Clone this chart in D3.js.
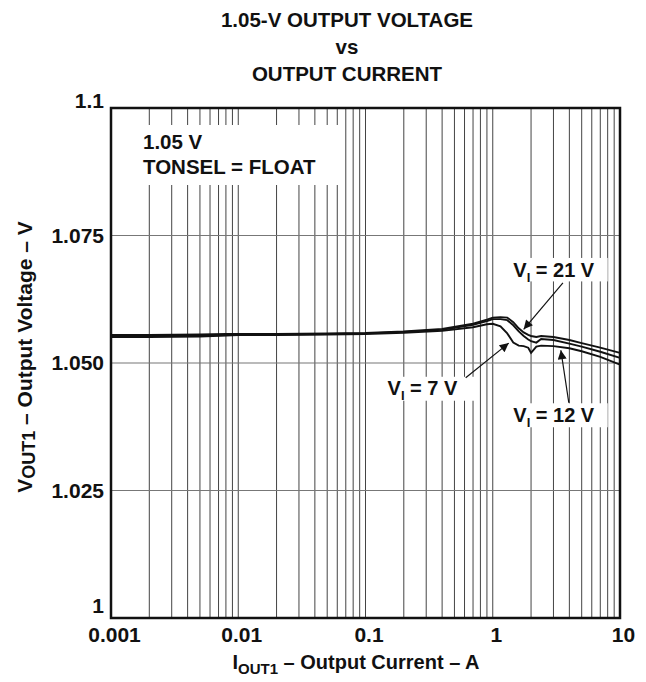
<!DOCTYPE html>
<html>
<head>
<meta charset="utf-8">
<script src="https://cdn.jsdelivr.net/npm/d3@7"></script>
<style>
  body { margin: 0; background: #fff; }
  text { font-family: "Liberation Sans", Arial, sans-serif; font-weight: bold; fill: #111; }
</style>
</head>
<body>
<script>
// chart values
var currents = [0.001, 0.002, 0.005, 0.008, 0.01, 0.02, 0.05, 0.1, 0.2, 0.4, 0.7, 0.9, 1.0, 1.15, 1.3, 1.45, 1.6, 1.75, 1.9, 2.0, 2.2, 2.4, 3, 4, 5, 7, 10];
var v21 = [1.0555, 1.0555, 1.0556, 1.0557, 1.0557, 1.0557, 1.0558, 1.0559, 1.0562, 1.0567, 1.0577, 1.0585, 1.0589, 1.0590, 1.0589, 1.0580, 1.0568, 1.0560, 1.0555, 1.0553, 1.0551, 1.0553, 1.0551, 1.0545, 1.0539, 1.0530, 1.0520];
var v12 = [1.0553, 1.0553, 1.0554, 1.0555, 1.0556, 1.0556, 1.0557, 1.0558, 1.0561, 1.0565, 1.0575, 1.0582, 1.0586, 1.0586, 1.0584, 1.0574, 1.0562, 1.0553, 1.0546, 1.0543, 1.0540, 1.0547, 1.0545, 1.0538, 1.0532, 1.0522, 1.0510];
var v7 = [1.0551, 1.0551, 1.0552, 1.0554, 1.0555, 1.0555, 1.0556, 1.0557, 1.0559, 1.0563, 1.0570, 1.0576, 1.0577, 1.0572, 1.0558, 1.0540, 1.0534, 1.0533, 1.0530, 1.0520, 1.0532, 1.0534, 1.0533, 1.0529, 1.0523, 1.0512, 1.0497];

var xTicks = [0.001, 0.01, 0.1, 1, 10];
var xTickLabels = ["0.001", "0.01", "0.1", "1", "10"];
var yTicks = [1, 1.025, 1.05, 1.075, 1.1];
var yTickLabels = ["1", "1.025", "1.050", "1.075", "1.1"];

var titleLines = ["1.05-V OUTPUT VOLTAGE", "vs", "OUTPUT CURRENT"];

// annotation anchors in data units
var notes = [
  { label: "21 V", tx: 1.45, ty: 1.0669, box: [1.38, 8.0, 1.0706, 1.0660], from: [3.56, 1.0657], to: [1.75, 1.0566] },
  { label: "7 V", tx: 0.149, ty: 1.0437, box: [0.137, 0.75, 1.0473, 1.0426], from: [0.613, 1.0471], to: [1.336, 1.0539] },
  { label: "12 V", tx: 1.45, ty: 1.0384, box: [1.38, 8.0, 1.0421, 1.0374], from: [3.96, 1.0422], to: [3.43, 1.0525] }
];

var w = 646, h = 682;
var padL = 111, padR = 620, padT = 108, padB = 618;

var svg = d3.select("body").append("svg")
    .attr("width", w)
    .attr("height", h);

var x = d3.scaleLog().domain([0.001, 10]).range([padL, padR]);
var y = d3.scaleLinear().domain([1, 1.1]).range([padB, padT]);

// title
svg.selectAll("text.title")
    .data(titleLines)
    .enter()
    .append("text")
    .attr("class", "title")
    .attr("x", 347)
    .attr("y", function(d, i) { return 27 + i * 27; })
    .attr("text-anchor", "middle")
    .style("font-size", "20.5px")
    .text(function(d) { return d; });

// grid: every minor decade line
var gridX = [];
[0.001, 0.01, 0.1, 1].forEach(function(dec) {
  for (var k = 2; k <= 9; k++) gridX.push(dec * k);
});
gridX = gridX.concat([0.01, 0.1, 1]);

svg.append("g")
    .selectAll("line")
    .data(gridX)
    .enter()
    .append("line")
    .attr("x1", function(d) { return x(d); })
    .attr("x2", function(d) { return x(d); })
    .attr("y1", padT)
    .attr("y2", padB)
    .attr("stroke", "#444")
    .attr("stroke-width", 1);

svg.append("g")
    .selectAll("line")
    .data([1.025, 1.05, 1.075])
    .enter()
    .append("line")
    .attr("x1", padL)
    .attr("x2", padR)
    .attr("y1", function(d) { return y(d); })
    .attr("y2", function(d) { return y(d); })
    .attr("stroke", "#777")
    .attr("stroke-width", 1.2);

// white box behind the condition text
svg.append("rect")
    .attr("x", padL + 1)
    .attr("y", 125)
    .attr("width", 229)
    .attr("height", 60)
    .attr("fill", "#fff");

svg.append("text")
    .attr("x", 143)
    .attr("y", 149)
    .style("font-size", "20.5px")
    .text("1.05 V");
svg.append("text")
    .attr("x", 143)
    .attr("y", 174)
    .style("font-size", "20.5px")
    .text("TONSEL = FLOAT");

// curves
var line = d3.line()
    .x(function(d) { return x(d[0]); })
    .y(function(d) { return y(d[1]); });

[v21, v12, v7].forEach(function(vals) {
  svg.append("path")
      .datum(d3.zip(currents, vals))
      .attr("d", line)
      .attr("fill", "none")
      .attr("stroke", "#111")
      .attr("stroke-width", 1.9);
});

// annotations
svg.append("defs").append("marker")
    .attr("id", "head")
    .attr("viewBox", "0 0 10 10")
    .attr("refX", 10)
    .attr("refY", 5)
    .attr("markerWidth", 12)
    .attr("markerHeight", 9)
    .attr("markerUnits", "userSpaceOnUse")
    .attr("orient", "auto")
    .append("path")
    .attr("d", "M0,0 L10,5 L0,10 z")
    .attr("fill", "#111");

var ann = svg.append("g").selectAll("g")
    .data(notes)
    .enter()
    .append("g");

ann.append("rect")
    .attr("x", function(d) { return x(d.box[0]); })
    .attr("y", function(d) { return y(d.box[2]); })
    .attr("width", function(d) { return x(d.box[1]) - x(d.box[0]); })
    .attr("height", function(d) { return y(d.box[3]) - y(d.box[2]); })
    .attr("fill", "#fff");

ann.append("line")
    .attr("x1", function(d) { return x(d.from[0]); })
    .attr("y1", function(d) { return y(d.from[1]); })
    .attr("x2", function(d) { return x(d.to[0]); })
    .attr("y2", function(d) { return y(d.to[1]); })
    .attr("stroke", "#111")
    .attr("stroke-width", 1.2)
    .attr("marker-end", "url(#head)");

var at = ann.append("text")
    .attr("x", function(d) { return x(d.tx); })
    .attr("y", function(d) { return y(d.ty); })
    .style("font-size", "20px");
at.append("tspan").text("V");
at.append("tspan").attr("dy", 5).style("font-size", "13px").text("I");
at.append("tspan").attr("dy", -5).text(function(d) { return " = " + d.label; });

// frame
svg.append("rect")
    .attr("x", padL)
    .attr("y", padT)
    .attr("width", padR - padL)
    .attr("height", padB - padT)
    .attr("fill", "none")
    .attr("stroke", "#111")
    .attr("stroke-width", 2.5);

// axes (labels only)
var xAxis = d3.axisBottom(x)
    .tickValues(xTicks)
    .tickSize(0)
    .tickPadding(9)
    .tickFormat(function(d, i) { return xTickLabels[i]; });
var yAxis = d3.axisLeft(y)
    .tickValues(yTicks)
    .tickSize(0)
    .tickPadding(7)
    .tickFormat(function(d, i) { return yTickLabels[i]; });

var gx = svg.append("g")
    .attr("transform", "translate(3," + padB + ")")
    .call(xAxis);
var gy = svg.append("g")
    .attr("transform", "translate(" + padL + ",0)")
    .call(yAxis);
[gx, gy].forEach(function(g) {
  g.select(".domain").remove();
  g.selectAll("text")
      .style("font-size", "21px")
      .style("font-family", "'Liberation Sans', Arial, sans-serif")
      .style("font-weight", "bold")
      .attr("fill", "#111");
});
// end labels sit inside the frame corners
gy.selectAll(".tick text")
    .attr("y", function(d) { return d === 1 ? -12 : (d === 1.1 ? -7 : 0); });

// axis titles
var xt = svg.append("text")
    .attr("x", 356)
    .attr("y", 669)
    .attr("text-anchor", "middle")
    .style("font-size", "20px");
xt.append("tspan").text("I");
xt.append("tspan").attr("dy", 5).style("font-size", "15px").text("OUT1");
xt.append("tspan").attr("dy", -5).text(" \u2013 Output Current \u2013 A");

var yt = svg.append("text")
    .attr("transform", "translate(32,357) rotate(-90)")
    .attr("text-anchor", "middle")
    .style("font-size", "21px");
yt.append("tspan").text("V");
yt.append("tspan").attr("dy", 3).style("font-size", "18px").text("OUT1");
yt.append("tspan").attr("dy", -3).text(" \u2013 Output Voltage \u2013 V");
</script>
</body>
</html>
